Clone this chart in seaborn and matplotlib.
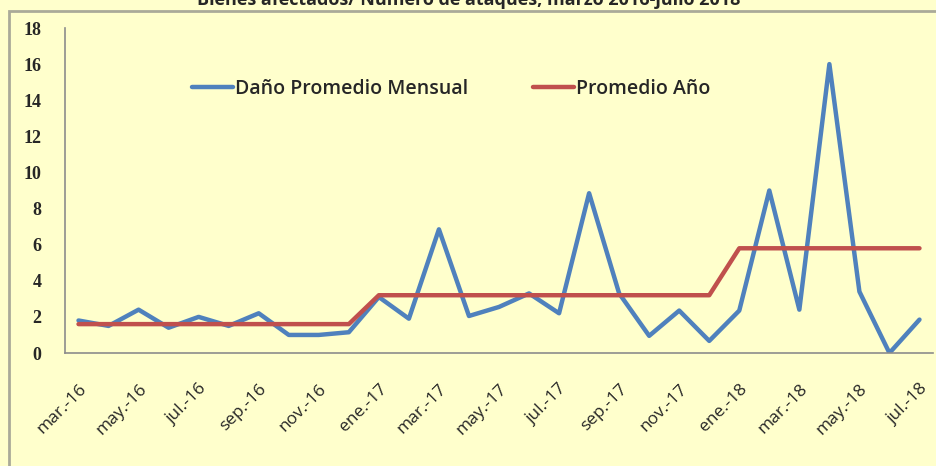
import numpy as np
import pandas as pd
import matplotlib
matplotlib.use("Agg")
import matplotlib.pyplot as plt
import seaborn as sns
from matplotlib.patches import Rectangle

months = ["mar.-16", "abr.-16", "may.-16", "jun.-16", "jul.-16", "ago.-16", "sep.-16", "oct.-16",
          "nov.-16", "dic.-16", "ene.-17", "feb.-17", "mar.-17", "abr.-17", "may.-17", "jun.-17",
          "jul.-17", "ago.-17", "sep.-17", "oct.-17", "nov.-17", "dic.-17", "ene.-18", "feb.-18",
          "mar.-18", "abr.-18", "may.-18", "jun.-18", "jul.-18"]
dano_mensual = [1.8, 1.5, 2.4, 1.4, 2.0, 1.5, 2.2, 1.0, 1.0, 1.15,
                3.1, 1.9, 6.85, 2.05, 2.55, 3.3, 2.2, 8.85, 3.3, 0.95, 2.35, 0.67,
                2.35, 9.0, 2.4, 16.0, 3.4, 0.0, 1.85]
promedio_anio = [1.6] * 10 + [3.2] * 12 + [5.8] * 7
yticks = list(range(0, 20, 2))

df = pd.DataFrame({"x": np.arange(len(months)),
                   "Daño Promedio Mensual": dano_mensual,
                   "Promedio Año": promedio_anio})
long = df.melt(id_vars="x", var_name="serie", value_name="valor")

sns.set_style("white")
bg = "#FFFFCC"
fig = plt.figure(figsize=(9.37, 4.66), dpi=100, facecolor=bg)
ax = fig.add_axes([65 / 937, 1 - 353 / 466, 868 / 937, 325 / 466])
ax.set_facecolor(bg)

sns.lineplot(data=long, x="x", y="valor", hue="serie",
             palette={"Daño Promedio Mensual": "#4F81BD", "Promedio Año": "#C0504D"},
             linewidth=3.2, ax=ax)

ax.set_xlim(-0.45, len(months) - 1 + 0.45)
ax.set_ylim(0, 18)
ax.set_yticks(yticks)
ax.set_yticklabels([str(t) for t in yticks], fontfamily="Liberation Serif",
                   fontsize=13, fontweight="bold")
ax.set_xticks(np.arange(0, len(months), 2))
ax.set_xticklabels(months[::2], rotation=45, ha="right", rotation_mode="anchor",
                   fontfamily="Open Sans", fontsize=12.5)
ax.tick_params(axis="y", length=0, pad=17)
ax.tick_params(axis="x", length=0, pad=20)
ax.set_xlabel("")
ax.set_ylabel("")
for s in ["top", "right"]:
    ax.spines[s].set_visible(False)
for s in ["left", "bottom"]:
    ax.spines[s].set_color("#8C8C8C")
    ax.spines[s].set_linewidth(1.2)

leg = ax.legend(loc="center", bbox_to_anchor=(0.445, 0.812), ncol=2, frameon=False,
                handlelength=2.1, handletextpad=0.15, columnspacing=3.3,
                prop={"family": "Open Sans", "size": 14, "weight": "semibold"})

# outer chart border, running off the right and bottom edges
fig.patches.append(Rectangle((9 / 937, -0.05), 1.0, 1 - 11 / 466 + 0.05,
                             transform=fig.transFigure, fill=False,
                             edgecolor="#AAAA99", linewidth=2))

# title sits mostly above the visible canvas, as in the source image
fig.text(0.5, 1.0, "Bienes afectados/ Número de ataques, marzo 2016-julio 2018",
         ha="center", va="center", fontsize=13, fontweight="bold",
         fontfamily="Open Sans")

fig.savefig("out.png", dpi=100, facecolor=bg)
